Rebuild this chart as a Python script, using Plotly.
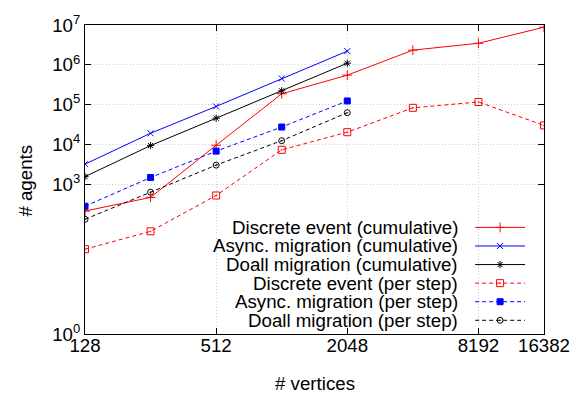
import plotly.graph_objects as go
import math

# ---------------- data ----------------
vertices = [128, 256, 512, 1024, 2048, 4096, 8192, 16384]
vertices_short = [128, 256, 512, 1024, 2048]

discrete_cum = [214, 471, 9590, 188000, 551000, 2.34e6, 3.48e6, 8.8e6]
async_cum = [3220, 19200, 90400, 455000, 2.21e6]
doall_cum = [1570, 9420, 45800, 223000, 1.10e6]
discrete_step = [23.6, 66.4, 527, 7360, 20400, 83500, 117000, 30200]
async_step = [283, 1485, 6830, 27500, 124000]
doall_step = [133, 637, 3040, 12500, 63000]

x_tickvals = [128, 512, 2048, 8192, 16382]
x_ticktext = ["128", "512", "2048", "8192", "16382"]
y_bottom_exp = -0.755  # where the reference's bottom "10^0" label sits
y_tick_exps = [0, 3, 4, 5, 6, 7]

legend_names = [
    "Discrete event (cumulative)",
    "Async. migration (cumulative)",
    "Doall migration (cumulative)",
    "Discrete event (per step)",
    "Async. migration (per step)",
    "Doall migration (per step)",
]

RED, BLUE, BLACK = "#ff0000", "#0000ff", "#000000"
DASH = "4px,3px"
FONT = "Liberation Sans, Arial, Helvetica, sans-serif"
FS = 18.7

styles = [
    dict(color=RED, dash="solid", symbol="cross-thin-open", size=7),
    dict(color=BLUE, dash="solid", symbol="x-thin-open", size=6),
    dict(color=BLACK, dash="solid", symbol="asterisk-open", size=6),
    dict(color=RED, dash=DASH, symbol="square-open-dot", size=7),
    dict(color=BLUE, dash=DASH, symbol="square", size=6),
    dict(color=BLACK, dash=DASH, symbol="circle-open-dot", size=6),
]
series = [
    (vertices, discrete_cum),
    (vertices_short, async_cum),
    (vertices_short, doall_cum),
    (vertices, discrete_step),
    (vertices_short, async_step),
    (vertices_short, doall_step),
]

# layout geometry (pixels)
W, H = 582, 396
ML, MR, MT, MB = 85, 37, 18, 62
PW, PH = W - ML - MR, H - MT - MB


def fx(px):
    return (px - ML) / PW


def fy(py):
    return (H - MB - py) / PH


fig = go.Figure()

for (xs, ys), st, name in zip(series, styles, legend_names):
    fig.add_trace(go.Scatter(
        x=xs, y=ys, mode="lines+markers", name=name, showlegend=False,
        line=dict(color=st["color"], width=1, dash=st["dash"]),
        marker=dict(symbol=st["symbol"], size=st["size"], color=st["color"],
                    line=dict(color=st["color"], width=1)),
        xaxis="x", yaxis="y",
    ))

# custom legend (text right-aligned, sample on the right, as in the reference)
row_y = [225, 244, 263, 282, 301, 320]
annotations = []
for name, st, ry in zip(legend_names, styles, row_y):
    fig.add_trace(go.Scatter(
        x=[fx(476), fx(526)], y=[fy(ry), fy(ry)], mode="lines",
        line=dict(color=st["color"], width=1, dash=st["dash"]),
        xaxis="x2", yaxis="y2", showlegend=False, hoverinfo="skip",
    ))
    fig.add_trace(go.Scatter(
        x=[fx(501)], y=[fy(ry)], mode="markers",
        marker=dict(symbol=st["symbol"], size=st["size"], color=st["color"],
                    line=dict(color=st["color"], width=1)),
        xaxis="x2", yaxis="y2", showlegend=False, hoverinfo="skip",
    ))
    annotations.append(dict(
        text=name, xref="paper", yref="paper", x=fx(461), y=fy(ry),
        xanchor="right", yanchor="middle", showarrow=False,
        font=dict(family=FONT, size=FS, color="black"),
    ))

annotations.append(dict(
    text="# vertices", xref="paper", yref="paper", x=fx(315), y=fy(385),
    xanchor="center", yanchor="middle", showarrow=False,
    font=dict(family=FONT, size=FS, color="black"),
))
annotations.append(dict(
    text="# agents", xref="paper", yref="paper", x=fx(25), y=fy(177),
    xanchor="center", yanchor="middle", showarrow=False, textangle=-90,
    font=dict(family=FONT, size=FS, color="black"),
))

y_tickvals = [10 ** (y_bottom_exp if e == 0 else e) for e in y_tick_exps]
y_ticktext = ["10<sup>%d</sup>" % e for e in y_tick_exps]

axis_common = dict(
    showline=True, linecolor="black", linewidth=1, mirror="ticks",
    ticks="inside", ticklen=6, tickcolor="black", tickwidth=1,
    showgrid=True, gridcolor="#cfcfcf", griddash="1px,2px", gridwidth=1,
    zeroline=False, tickfont=dict(family=FONT, size=FS, color="black"),
)

fig.update_layout(
    width=W, height=H,
    margin=dict(l=ML, r=MR, t=MT, b=MB),
    paper_bgcolor="white", plot_bgcolor="white",
    showlegend=False,
    xaxis=dict(type="log", range=[math.log10(128), math.log10(16384)],
               tickmode="array", tickvals=x_tickvals, ticktext=x_ticktext,
               ticklabelstandoff=-5, **axis_common),
    yaxis=dict(type="log", range=[y_bottom_exp, 7],
               tickmode="array", tickvals=y_tickvals, ticktext=y_ticktext,
               **axis_common),
    xaxis2=dict(overlaying="x", range=[0, 1], visible=False, fixedrange=True),
    yaxis2=dict(overlaying="y", range=[0, 1], visible=False, fixedrange=True),
    annotations=annotations,
    shapes=[dict(type="rect", xref="paper", yref="paper",
                 x0=fx(228), x1=fx(536), y0=fy(329), y1=fy(213),
                 fillcolor="white", line=dict(width=0), layer="between")],
)

fig.write_html("out.html")
